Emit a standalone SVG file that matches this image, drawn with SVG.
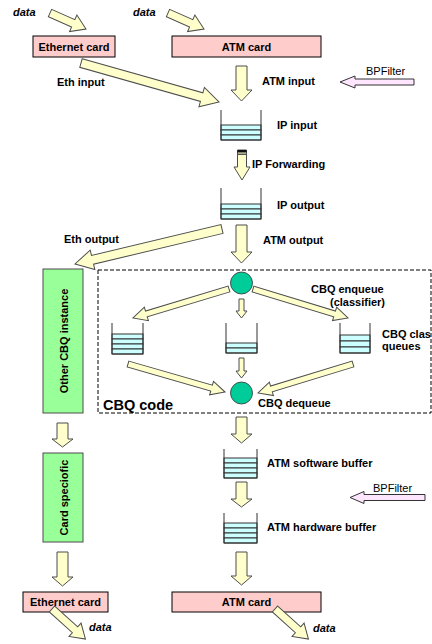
<svg xmlns="http://www.w3.org/2000/svg" width="432" height="644" viewBox="0 0 432 644">
<style>
.arr{fill:#ffffcc;stroke:#4d4d4d;stroke-width:1}
.bp{fill:#ffe6ff;stroke:#333;stroke-width:1}
.card{fill:#ffcccc;stroke:#000;stroke-width:1}
.green{fill:#99ff99;stroke:#4d4d4d;stroke-width:1}
.wall{fill:none;stroke:#333;stroke-width:1}
.qs{fill:#ccffff;stroke:#333;stroke-width:1}
.circ{fill:#00cc99;stroke:#333;stroke-width:0.8}
.lbl{font-family:"Liberation Sans",Arial,sans-serif;font-weight:bold;font-size:11px;fill:#000}
.it{font-style:italic}
.nb{font-weight:normal}
.big{font-size:14.5px}
.dash{fill:none;stroke:#000;stroke-width:1;stroke-dasharray:4 2}
</style>
<rect width="432" height="644" fill="#fff"/>

<g id="cbq-code">
<rect class="dash" x="98" y="270" width="333" height="143"/>
<text class="lbl big" x="103" y="410">CBQ code</text>
</g>

<g id="eth-card-in"><rect class="card" x="33" y="36" width="82" height="21"/><text class="lbl" x="74" y="50.5" text-anchor="middle">Ethernet card</text></g>
<g id="atm-card-in"><rect class="card" x="172" y="36" width="149" height="21"/><text class="lbl" x="246.5" y="50.5" text-anchor="middle">ATM card</text></g>

<g id="ip-input"><rect class="qs" x="221" y="125" width="40" height="5"/><rect class="qs" x="221" y="130" width="40" height="5"/><rect class="qs" x="221" y="135" width="40" height="5"/><path class="wall" d="M221,110V140H261V110"/><text class="lbl" x="277" y="129">IP input</text></g>
<g id="ip-output"><rect class="qs" x="221" y="204" width="40" height="5"/><rect class="qs" x="221" y="209" width="40" height="5"/><rect class="qs" x="221" y="214" width="40" height="5"/><path class="wall" d="M221,188V219H261V188"/><text class="lbl" x="277" y="209">IP output</text></g>

<g id="other-cbq"><rect class="green" x="43" y="269" width="40" height="144"/><text class="lbl" transform="translate(63.5,341) rotate(-90)" x="0" y="4" text-anchor="middle">Other CBQ instance</text></g>
<g id="card-specific"><rect class="green" x="43" y="453" width="40" height="89"/><text class="lbl" transform="translate(63.5,497.5) rotate(-90)" x="0" y="4" text-anchor="middle">Card speciofic</text></g>

<g id="enqueue"><circle class="circ" cx="241.5" cy="283" r="11"/><text class="lbl" x="311" y="293">CBQ enqueue</text><text class="lbl" x="330" y="306">(classifier)</text></g>
<g id="dequeue"><circle class="circ" cx="241.5" cy="393" r="11"/><text class="lbl" x="258" y="407">CBQ dequeue</text></g>

<g id="queue-left"><rect class="qs" x="112" y="334" width="31" height="5"/><rect class="qs" x="112" y="339" width="31" height="5"/><rect class="qs" x="112" y="344" width="31" height="5"/><rect class="qs" x="112" y="349" width="31" height="5"/><path class="wall" d="M112,323V354H143V323"/></g>
<g id="queue-mid"><rect class="qs" x="226" y="343" width="31" height="5"/><rect class="qs" x="226" y="348" width="31" height="5"/><path class="wall" d="M226,323V353H257V323"/></g>
<g id="queue-right"><rect class="qs" x="340" y="335" width="30" height="6"/><rect class="qs" x="340" y="341" width="30" height="6"/><rect class="qs" x="340" y="347" width="30" height="6"/><path class="wall" d="M340,323V353H370V323"/><text class="lbl" x="382" y="338">CBQ clas</text><text class="lbl" x="382" y="350">queues</text></g>

<g id="atm-sw"><rect class="qs" x="224" y="458" width="33" height="5"/><rect class="qs" x="224" y="463" width="33" height="5"/><rect class="qs" x="224" y="468" width="33" height="5"/><rect class="qs" x="224" y="473" width="33" height="5"/><path class="wall" d="M224,449V478H257V449"/><text class="lbl" x="267" y="467">ATM software buffer</text></g>
<g id="atm-hw"><rect class="qs" x="224" y="523" width="33" height="5"/><rect class="qs" x="224" y="528" width="33" height="5"/><rect class="qs" x="224" y="533" width="33" height="5"/><rect class="qs" x="224" y="538" width="33" height="5"/><path class="wall" d="M224,513V543H257V513"/><text class="lbl" x="267" y="531">ATM hardware buffer</text></g>

<g id="eth-card-out"><rect class="card" x="23" y="592" width="85" height="20"/><text class="lbl" x="65.5" y="606" text-anchor="middle">Ethernet card</text></g>
<g id="atm-card-out"><rect class="card" x="172" y="592" width="149" height="20"/><text class="lbl" x="246.5" y="606" text-anchor="middle">ATM card</text></g>

<g id="bpf-top"><polygon class="bp" points="340,82 355,76 355,79 414,79 414,85 355,85 355,88"/><text class="lbl nb" x="366" y="75">BPFilter</text></g>
<g id="bpf-bottom"><polygon class="bp" points="350,497.5 364,491.5 364,494.5 425,494.5 425,500.5 364,500.5 364,503.5"/><text class="lbl nb" x="373" y="492">BPFilter</text></g>

<g id="connectors">
<g transform="translate(50,13) rotate(23.96)"><polygon class="arr" points="0,-4 25.4,-4 25.4,-9 39.4,0 25.4,9 25.4,4 0,4"/></g>
<g transform="translate(168,13) rotate(23.96)"><polygon class="arr" points="0,-4 25.4,-4 25.4,-9 39.4,0 25.4,9 25.4,4 0,4"/></g>
<g transform="translate(81,63) rotate(15.78)"><polygon class="arr" points="0,-4.5 125.4,-4.5 125.4,-10 143.4,0 125.4,10 125.4,4.5 0,4.5"/></g>
<g transform="translate(222,229) rotate(166.61)"><polygon class="arr" points="0,-4.5 133.1,-4.5 133.1,-10 151.1,0 133.1,10 133.1,4.5 0,4.5"/></g>
<g transform="translate(229,289) rotate(163.19)"><polygon class="arr" points="0,-3 86.3,-3 86.3,-7 100.3,0 86.3,7 86.3,3 0,3"/></g>
<g transform="translate(253,289) rotate(16.98)"><polygon class="arr" points="0,-3 85.3,-3 85.3,-7 99.3,0 85.3,7 85.3,3 0,3"/></g>
<g transform="translate(128,364) rotate(16.1)"><polygon class="arr" points="0,-3 87,-3 87,-7 101,0 87,7 87,3 0,3"/></g>
<g transform="translate(353,364) rotate(163.02)"><polygon class="arr" points="0,-3 85.3,-3 85.3,-7 99.3,0 85.3,7 85.3,3 0,3"/></g>
<g transform="translate(52,609) rotate(42)"><polygon class="arr" points="0,-4 31,-4 31,-9 45,0 31,9 31,4 0,4"/></g>
<g transform="translate(275,609) rotate(42)"><polygon class="arr" points="0,-4 31,-4 31,-9 45,0 31,9 31,4 0,4"/></g>
<polygon class="arr" points="236,66 247,66 247,90 252,90 241.5,101 231,90 236,90"/>
<polygon class="arr" points="237.5,150 246.5,150 246.5,167 250,167 242,180 234,167 237.5,167"/>
<rect x="237.5" y="150" width="9" height="2.5" fill="#111"/><rect x="237.5" y="153.5" width="9" height="1.5" fill="#555"/>
<polygon class="arr" points="236,225 247,225 247,252 252,252 241.5,263 231,252 236,252"/>
<polygon class="arr" points="239,299 244,299 244,311 247,311 241.5,318 236,311 239,311"/>
<polygon class="arr" points="239,358 244,358 244,371 247,371 241.5,378 236,371 239,371"/>
<polygon class="arr" points="236,417 247,417 247,434 252,434 241.5,443 231,434 236,434"/>
<polygon class="arr" points="236,482 247,482 247,499 252,499 241.5,507 231,499 236,499"/>
<polygon class="arr" points="236,552 247,552 247,576 252,576 241.5,585 231,576 236,576"/>
<polygon class="arr" points="57,423 68,423 68,439 73,439 62.5,447 52,439 57,439"/>
<polygon class="arr" points="57,552 68,552 68,577 73,577 62.5,586 52,577 57,577"/>
</g>

<g id="labels">
<text class="lbl it" x="13" y="16">data</text>
<text class="lbl it" x="133" y="16">data</text>
<text class="lbl" x="57" y="86">Eth input</text>
<text class="lbl" x="262" y="85">ATM input</text>
<text class="lbl" x="252" y="168">IP Forwarding</text>
<text class="lbl" x="263" y="244">ATM output</text>
<text class="lbl" x="64" y="243">Eth output</text>
<text class="lbl it" x="89" y="631">data</text>
<text class="lbl it" x="313" y="632">data</text>
</g>
</svg>
